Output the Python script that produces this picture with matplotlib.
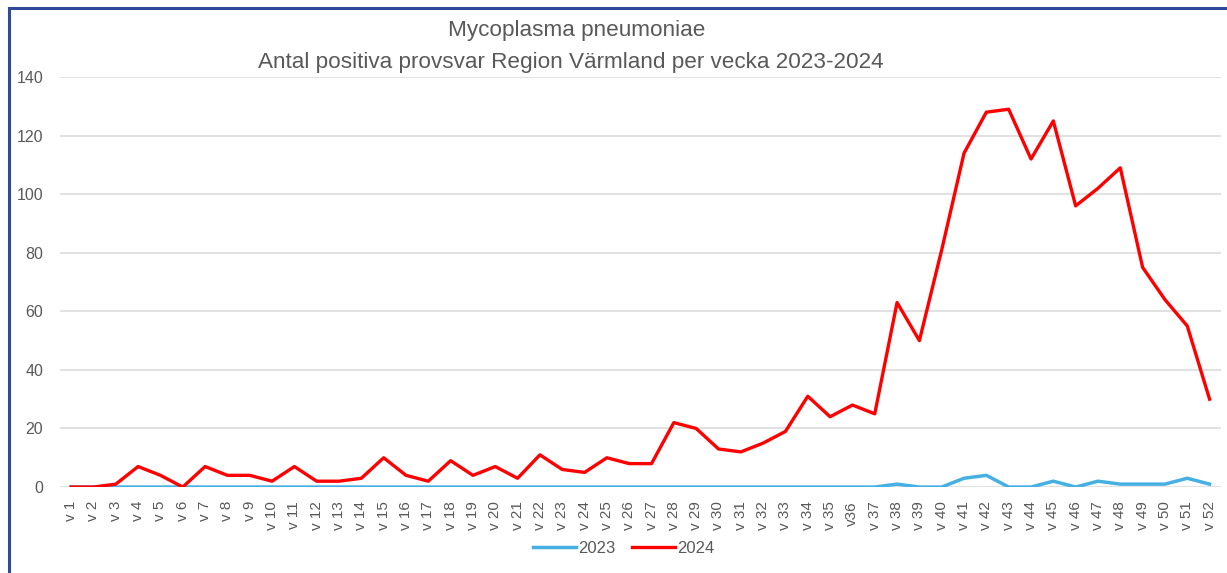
import matplotlib.pyplot as plt
from matplotlib.lines import Line2D

weeks = ['v ' + str(i) for i in range(1, 53)]
weeks[35] = 'v36'

cases_2023 = [0, 0, 0, 0, 0, 0, 0, 0, 0, 0, 0, 0, 0, 0, 0, 0, 0, 0, 0, 0,
              0, 0, 0, 0, 0, 0, 0, 0, 0, 0, 0, 0, 0, 0, 0, 0, 0, 1, 0, 0,
              3, 4, 0, 0, 2, 0, 2, 1, 1, 1, 3, 1]
cases_2024 = [0, 0, 1, 7, 4, 0, 7, 4, 4, 2, 7, 2, 2, 3, 10, 4, 2, 9, 4, 7,
              3, 11, 6, 5, 10, 8, 8, 22, 20, 13, 12, 15, 19, 31, 24, 28, 25, 63, 50, 81,
              114, 128, 129, 112, 125, 96, 102, 109, 75, 64, 55, 30]

plt.rcParams['font.family'] = ['Liberation Sans', 'DejaVu Sans']
grey = '#595959'

fig = plt.figure(figsize=(12.27, 5.73), dpi=100)
ax = fig.add_axes([0.0489, 0.150, 0.946, 0.7156])

x = range(len(weeks))
ax.plot(x, cases_2023, color='#45B0E1', linewidth=2.5, label='2023', zorder=3)
ax.plot(x, cases_2024, color='#FF0000', linewidth=2.4, label='2024', zorder=4)

ax.set_xlim(-0.5, len(weeks) - 0.5)
ax.set_ylim(0, 140)
ax.set_yticks(range(0, 141, 20))
ax.set_xticks(list(x))
ax.set_xticklabels(weeks, rotation=90, fontsize=11, color=grey)
ax.tick_params(axis='y', labelsize=11.5, labelcolor=grey, length=0, pad=12)
ax.tick_params(axis='x', length=0, pad=10)
ax.grid(axis='y', color='#d9d9d9', linewidth=1.1)
ax.set_axisbelow(True)
for s in ax.spines.values():
    s.set_visible(False)

fig.text(0.470, 0.947, 'Mycoplasma pneumoniae', ha='center', va='center',
         fontsize=16.2, color=grey)
fig.text(0.465, 0.891, 'Antal positiva provsvar Region Värmland per vecka 2023-2024',
         ha='center', va='center', fontsize=16.2, color=grey)

fig.legend(loc='center', bbox_to_anchor=(0.508, 0.043), ncol=2, frameon=False,
           fontsize=12, labelcolor=grey, handlelength=2.6, handletextpad=0.1,
           columnspacing=1.0)

# dark blue frame at left and top
fig.add_artist(Line2D([0.0075, 0.0075], [0, 0.986], color='#2F4A9A', linewidth=2.2,
                      transform=fig.transFigure))
fig.add_artist(Line2D([0.0075, 1], [0.986, 0.986], color='#2F4A9A', linewidth=2.2,
                      transform=fig.transFigure))

fig.savefig('out.png', dpi=100)
